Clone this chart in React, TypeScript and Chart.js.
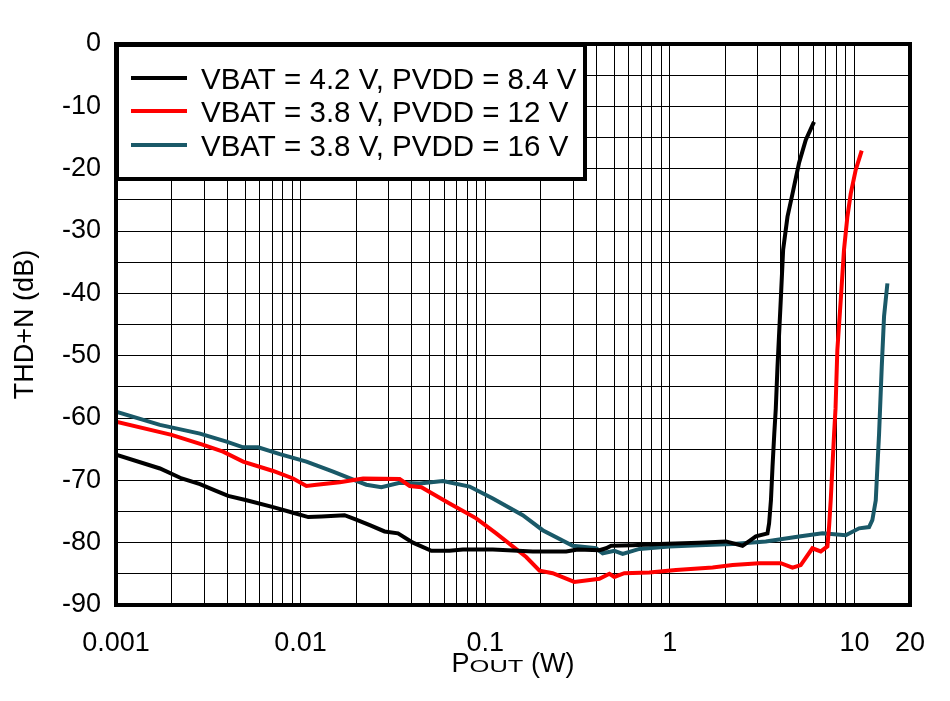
import React, { useEffect, useRef } from 'react';
import { Chart, registerables } from 'chart.js';

Chart.register(...registerables);

const FONT = '"Liberation Sans", Arial, Helvetica, sans-serif';

// Series: VBAT = 4.2 V, PVDD = 8.4 V
const blackP = [0.001, 0.00173, 0.00227, 0.00285, 0.00343, 0.00405, 0.0051, 0.0071, 0.0091, 0.011, 0.013, 0.0173, 0.02, 0.0237, 0.0285, 0.0337, 0.0406, 0.0511, 0.0641, 0.0757, 0.11, 0.181, 0.2745, 0.317, 0.4155, 0.4516, 0.481, 0.629, 0.877, 1.444, 2.013, 2.477, 2.925, 3.38, 3.45, 3.53, 3.6, 3.68, 3.75, 3.83, 3.99, 4.11, 4.34, 4.62, 5.01, 5.45, 6.04];
const blackThd = [-65.9, -68.1, -69.7, -70.6, -71.6, -72.5, -73.2, -74.3, -75.2, -75.9, -75.8, -75.6, -76.3, -77.2, -78.2, -78.5, -80.0, -81.3, -81.3, -81.1, -81.1, -81.4, -81.4, -81.1, -81.2, -80.9, -80.5, -80.4, -80.2, -80.0, -79.8, -80.5, -79.0, -78.5, -76.9, -73.2, -67.8, -62.5, -58.5, -51.8, -41.1, -33.0, -27.7, -24.0, -19.1, -15.4, -12.5];

// Series: VBAT = 3.8 V, PVDD = 12 V
const redP = [0.001, 0.002, 0.00297, 0.0038, 0.00488, 0.0071, 0.0091, 0.01075, 0.0122, 0.0163, 0.0218, 0.0344, 0.039, 0.0451, 0.0641, 0.0894, 0.1147, 0.1667, 0.1968, 0.232, 0.304, 0.4155, 0.4708, 0.5008, 0.567, 0.7747, 1.08, 1.705, 2.19, 3.05, 3.99, 4.62, 5.12, 5.92, 6.57, 7.14, 7.29, 7.44, 7.6, 7.76, 7.9, 8.08, 8.43, 8.78, 9.16, 9.55, 10.16, 10.95];
const redThd = [-60.6, -62.7, -64.3, -65.4, -67.0, -68.5, -69.7, -70.9, -70.7, -70.3, -69.7, -69.8, -70.9, -71.1, -73.7, -76.1, -78.5, -82.3, -84.5, -84.9, -86.3, -85.8, -85.0, -85.5, -84.9, -84.8, -84.4, -84.0, -83.6, -83.3, -83.3, -84.0, -83.6, -80.9, -81.4, -80.6, -77.4, -73.2, -67.8, -62.5, -58.5, -49.1, -41.1, -33.0, -27.7, -24.0, -20.2, -17.1];

// Series: VBAT = 3.8 V, PVDD = 16 V
const tealP = [0.001, 0.00173, 0.00285, 0.00397, 0.00488, 0.00589, 0.00772, 0.01075, 0.015, 0.02005, 0.0227, 0.0274, 0.0344, 0.0441, 0.059, 0.0823, 0.11, 0.1597, 0.2048, 0.2979, 0.3986, 0.433, 0.5008, 0.5556, 0.684, 0.994, 1.444, 2.19, 3.31, 5.01, 6.71, 8.97, 10.6, 12.0, 12.5, 13.05, 13.32, 13.6, 14.06, 14.47, 15.09];
const tealThd = [-59.0, -61.1, -62.5, -63.8, -64.7, -64.7, -65.8, -67.0, -68.6, -70.1, -70.7, -71.1, -70.4, -70.5, -70.1, -71.0, -72.9, -75.6, -78.0, -80.5, -80.9, -81.7, -81.3, -81.8, -81.0, -80.6, -80.4, -80.2, -79.8, -79.0, -78.5, -78.8, -77.7, -77.5, -76.4, -73.2, -67.8, -62.5, -51.8, -43.7, -38.4];

const seriesLabels = ['VBAT = 4.2 V, PVDD = 8.4 V', 'VBAT = 3.8 V, PVDD = 12 V', 'VBAT = 3.8 V, PVDD = 16 V'];
const seriesColors = ['#000000', '#ff0000', '#1a5968'];

const xGridValues = [
  0.001, 0.002, 0.003, 0.004, 0.005, 0.006, 0.007, 0.008, 0.009,
  0.01, 0.02, 0.03, 0.04, 0.05, 0.06, 0.07, 0.08, 0.09,
  0.1, 0.2, 0.3, 0.4, 0.5, 0.6, 0.7, 0.8, 0.9,
  1, 2, 3, 4, 5, 6, 7, 8, 9,
  10, 20,
];
const xLabelValues = [0.001, 0.01, 0.1, 1, 10, 20];
const xLabelTexts = ['0.001', '0.01', '0.1', '1', '10', '20'];

const yGridValues = [0, -5, -10, -15, -20, -25, -30, -35, -40, -45, -50, -55, -60, -65, -70, -75, -80, -85, -90];
const yLabelValues = [0, -10, -20, -30, -40, -50, -60, -70, -80, -90];

const toPoints = (xs: number[], ys: number[]) => xs.map((x, i) => ({ x, y: ys[i] }));

const decorPlugin = {
  id: 'decor',
  afterDraw(chart: any) {
    const { ctx, chartArea: a } = chart;
    ctx.save();

    // Legend box
    const bx = a.left + 1;
    const by = a.top + 1;
    const bw = 468;
    const bh = 134;
    ctx.fillStyle = '#ffffff';
    ctx.fillRect(bx, by, bw, bh);
    ctx.lineWidth = 4;
    ctx.strokeStyle = '#000000';
    ctx.strokeRect(bx, by, bw, bh);

    const rows = [34, 67, 101];
    chart.data.datasets.forEach((ds: any, i: number) => {
      const cy = a.top + rows[i];
      ctx.beginPath();
      ctx.lineWidth = 4;
      ctx.strokeStyle = ds.borderColor;
      ctx.moveTo(a.left + 15, cy);
      ctx.lineTo(a.left + 71, cy);
      ctx.stroke();
      ctx.fillStyle = '#000000';
      ctx.font = `29.5px ${FONT}`;
      ctx.textAlign = 'left';
      ctx.textBaseline = 'alphabetic';
      ctx.fillText(ds.label, a.left + 85, cy + 10.5);
    });

    // Plot frame
    ctx.lineWidth = 4;
    ctx.strokeStyle = '#000000';
    ctx.strokeRect(a.left, a.top, a.right - a.left, a.bottom - a.top);

    // X-axis title with subscript
    const cx = (a.left + a.right) / 2;
    const baseY = 672;
    const mainFont = `27px ${FONT}`;
    const subFont = `17px ${FONT}`;
    const subScale = 1.5;
    ctx.font = mainFont;
    const wP = ctx.measureText('P').width;
    const wRest = ctx.measureText(' (W)').width;
    ctx.font = subFont;
    const wSub = ctx.measureText('OUT').width * subScale;
    const total = wP + wSub + wRest;
    let x = cx - total / 2;
    ctx.fillStyle = '#000000';
    ctx.textAlign = 'left';
    ctx.textBaseline = 'alphabetic';
    ctx.font = mainFont;
    ctx.fillText('P', x, baseY);
    x += wP;
    ctx.save();
    ctx.font = subFont;
    ctx.translate(x, baseY);
    ctx.scale(subScale, 1);
    ctx.fillText('OUT', 0, 0);
    ctx.restore();
    x += wSub;
    ctx.font = mainFont;
    ctx.fillText(' (W)', x, baseY);

    ctx.restore();
  },
};

export default function App() {
  const canvasRef = useRef<HTMLCanvasElement | null>(null);

  useEffect(() => {
    if (!canvasRef.current) return;
    const chart = new Chart(canvasRef.current, {
      type: 'line',
      data: {
        datasets: [
          { label: seriesLabels[0], data: toPoints(blackP, blackThd), borderColor: seriesColors[0] },
          { label: seriesLabels[1], data: toPoints(redP, redThd), borderColor: seriesColors[1] },
          { label: seriesLabels[2], data: toPoints(tealP, tealThd), borderColor: seriesColors[2] },
        ],
      },
      options: {
        responsive: false,
        animation: false,
        layout: { padding: { left: 0, top: 44, right: 40, bottom: 0 } },
        plugins: { legend: { display: false }, tooltip: { enabled: false } },
        elements: {
          point: { radius: 0 },
          line: { tension: 0, borderWidth: 4, fill: false },
        },
        scales: {
          x: {
            type: 'logarithmic',
            min: 0.001,
            max: 20,
            afterBuildTicks: (s: any) => {
              s.ticks = xGridValues.map((v) => ({ value: v }));
            },
            afterFit: (s: any) => {
              s.height = 96;
            },
            grid: { color: '#000000', lineWidth: 1, drawTicks: false },
            border: { display: false },
            ticks: {
              autoSkip: false,
              maxRotation: 0,
              minRotation: 0,
              padding: 22,
              color: '#000000',
              font: { family: FONT, size: 27 },
              callback: (v: any) => {
                const n = Number(v);
                const idx = xLabelValues.findIndex((lv) => Math.abs(n - lv) / lv < 1e-6);
                return idx >= 0 ? xLabelTexts[idx] : '';
              },
            },
          },
          y: {
            type: 'linear',
            min: -90,
            max: 0,
            afterBuildTicks: (s: any) => {
              s.ticks = yGridValues.map((v) => ({ value: v }));
            },
            afterFit: (s: any) => {
              s.width = 116;
            },
            grid: { color: '#000000', lineWidth: 1, drawTicks: false },
            border: { display: false },
            ticks: {
              autoSkip: false,
              padding: 15,
              color: '#000000',
              font: { family: FONT, size: 27 },
              callback: (v: any) => {
                const n = Number(v);
                return yLabelValues.includes(n) ? String(n) : '';
              },
            },
            title: {
              display: true,
              text: 'THD+N (dB)',
              color: '#000000',
              font: { family: FONT, size: 27 },
              padding: { top: 9, bottom: 0 },
            },
          },
        },
      },
      plugins: [decorPlugin],
    } as any);
    return () => chart.destroy();
  }, []);

  return (
    <div style={{ position: 'absolute', left: 0, top: 0, width: 950, height: 701, background: '#ffffff' }}>
      <canvas ref={canvasRef} width={950} height={701} />
    </div>
  );
}
